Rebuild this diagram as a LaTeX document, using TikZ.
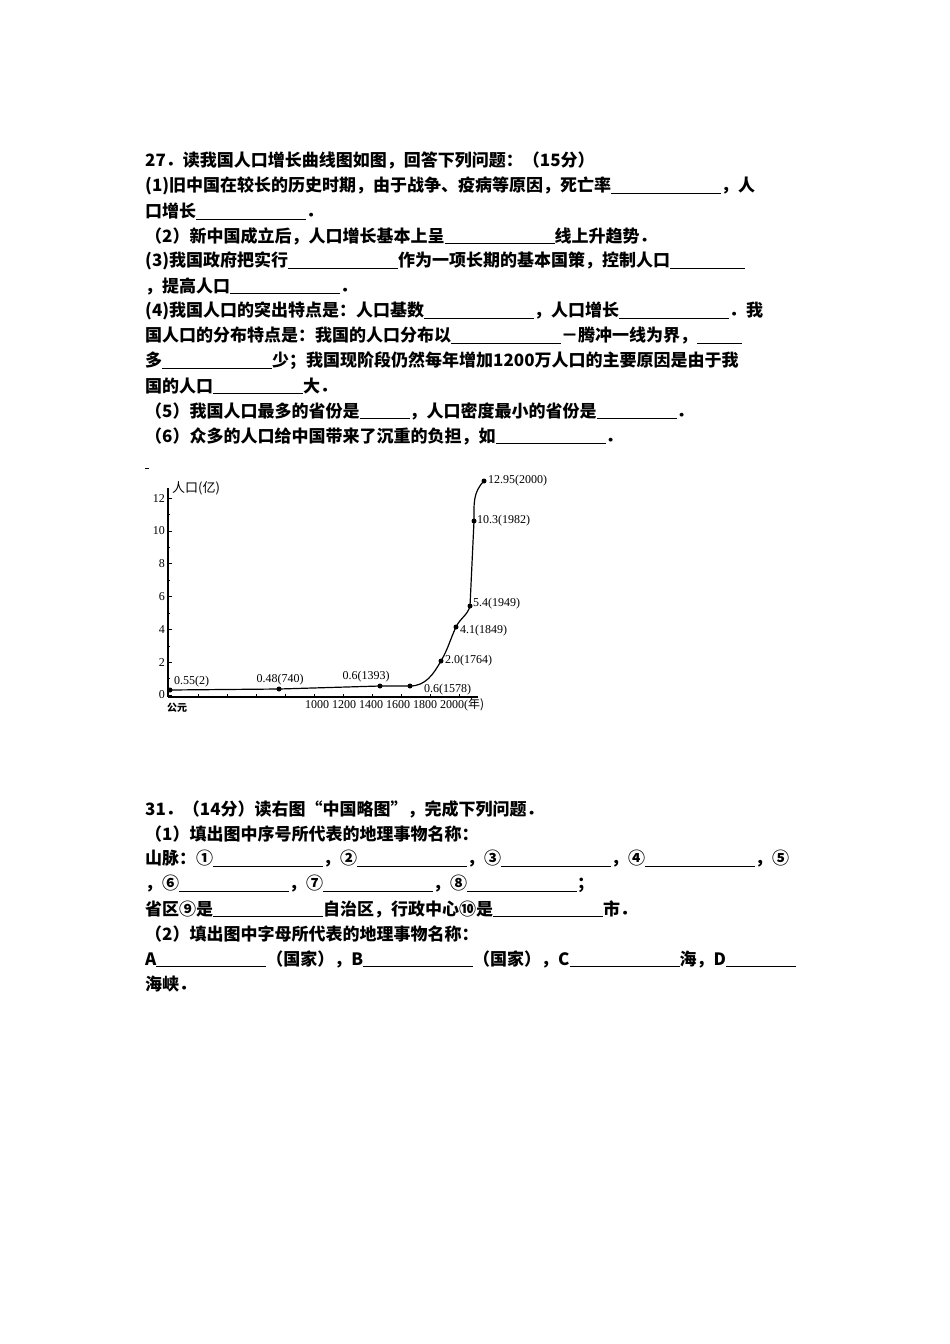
\documentclass[tikz,border=0pt]{standalone}
\usepackage{fontspec}
\newfontfamily\cjk{Noto Sans CJK SC}
\newfontfamily\serif{Liberation Serif}
\newcommand{\blank}[1]{\underline{\hspace{#1pt}}}
\tikzset{
  txt/.style={anchor=west, inner sep=0pt, font=\cjk\bfseries\fontsize{17}{20}\selectfont},
  lbl/.style={inner sep=0pt, font=\serif\fontsize{12}{14}\selectfont},
  dot/.style={circle, fill=black, inner sep=0pt, minimum size=5pt}
}
\begin{document}
\begin{tikzpicture}[x=1pt,y=-1pt]
\useasboundingbox (0,0) rectangle (950,1344);
% question 27
\node[txt] (q1) at (145,160) {27．读我国人口增长曲线图如图，回答下列问题：（15分）};
\node[txt] (q2) at (145,186) {(1)旧中国在较长的历史时期，由于战争、疫病等原因，死亡率\blank{110}，人};
\node[txt] (q3) at (145,211) {口增长\blank{110}．};
\node[txt] (q4) at (145,236) {（2）新中国成立后，人口增长基本上呈\blank{110}线上升趋势．};
\node[txt] (q5) at (145,261) {(3)我国政府把实行\blank{110}作为一项长期的基本国策，控制人口\blank{75}};
\node[txt] (q6) at (145,286) {，提高人口\blank{110}．};
\node[txt] (q7) at (145,311) {(4)我国人口的突出特点是：人口基数\blank{110}，人口增长\blank{110}．我};
\node[txt] (q8) at (145,336) {国人口的分布特点是：我国的人口分布以\blank{110}－腾冲一线为界，\blank{45}};
\node[txt] (q9) at (145,361) {多\blank{110}少；我国现阶段仍然每年增加1200万人口的主要原因是由于我};
\node[txt] (q10) at (145,386) {国的人口\blank{90}大．};
\node[txt] (q11) at (145,411) {（5）我国人口最多的省份是\blank{50}，人口密度最小的省份是\blank{80}．};
\node[txt] (q12) at (145,436) {（6）众多的人口给中国带来了沉重的负担，如\blank{110}．};
% chart
\draw[thick] (145,468) -- (149,468);
\draw[very thick] (168,697) coordinate (o) -- (168,488) coordinate (ytop);
\draw[very thick] (o) -- (478,697) coordinate (xend);
\foreach \v in {0,2,...,12}{
  \draw[thick] (168,{695-16.4*\v}) -- (172,{695-16.4*\v});
  \node[lbl, anchor=east] at (165,{695-16.4*\v}) {\v};
}
\foreach \v in {1,3,...,11} \draw (168,{695-16.4*\v}) -- (170,{695-16.4*\v});
\foreach \xx in {198,227,256,285,314,343,372,401,430,459} \draw (\xx,697) -- (\xx,694);
\node[lbl, anchor=west, font=\cjk\fontsize{13}{14}\selectfont] at (172,488) {人口(亿)};
\node[lbl, anchor=west, font=\cjk\bfseries\fontsize{10}{10}\selectfont] at (167,708) {公元};
\node[lbl, anchor=west] at (305,705) {1000 1200 1400 1600 1800 2000(\cjk 年)};
\node[dot] (p1) at (170,690) {};
\node[dot] (p2) at (279,689) {};
\node[dot] (p3) at (380,686) {};
\node[dot] (p4) at (410,686) {};
\node[dot] (p5) at (441,661) {};
\node[dot] (p6) at (456,627) {};
\node[dot] (p7) at (470,606) {};
\node[dot] (p8) at (474,521) {};
\node[dot] (p9) at (484,481) {};
\draw[very thick] (p1.center) -- (p2.center) -- (p3.center) -- (p4.center)
  to[out=0,in=240] (p5.center) to[out=60,in=245] (p6.center)
  to[out=65,in=255] (p7.center) -- (p8.center) to[out=90,in=225] (p9.center);
\node[lbl, anchor=south west] at (174,687) {0.55(2)};
\node[lbl, anchor=south] at (280,685) {0.48(740)};
\node[lbl, anchor=south] at (366,682) {0.6(1393)};
\node[lbl, anchor=south west] at (424,695) {0.6(1578)};
\node[lbl, anchor=west] at (445,661) {2.0(1764)};
\node[lbl, anchor=west] at (460,631) {4.1(1849)};
\node[lbl, anchor=west] at (473,604) {5.4(1949)};
\node[lbl, anchor=west] at (477,521) {10.3(1982)};
\node[lbl, anchor=west] at (488,481) {12.95(2000)};
% question 31
\node[txt] (r1) at (145,809) {31．（14分）读右图“中国略图”，完成下列问题．};
\node[txt] (r2) at (145,834) {（1）填出图中序号所代表的地理事物名称：};
\node[txt] (r3) at (145,859) {山脉：①\blank{110}，②\blank{110}，③\blank{110}，④\blank{110}，⑤};
\node[txt] (r4) at (145,884) {，⑥\blank{110}，⑦\blank{110}，⑧\blank{110}；};
\node[txt] (r5) at (145,909) {省区⑨是\blank{110}自治区，行政中心⑩是\blank{110}市．};
\node[txt] (r6) at (145,934) {（2）填出图中字母所代表的地理事物名称：};
\node[txt] (r7) at (145,959) {A\blank{110}（国家），B\blank{110}（国家），C\blank{110}海，D\blank{70}};
\node[txt] (r8) at (145,984) {海峡．};
\end{tikzpicture}
\end{document}
